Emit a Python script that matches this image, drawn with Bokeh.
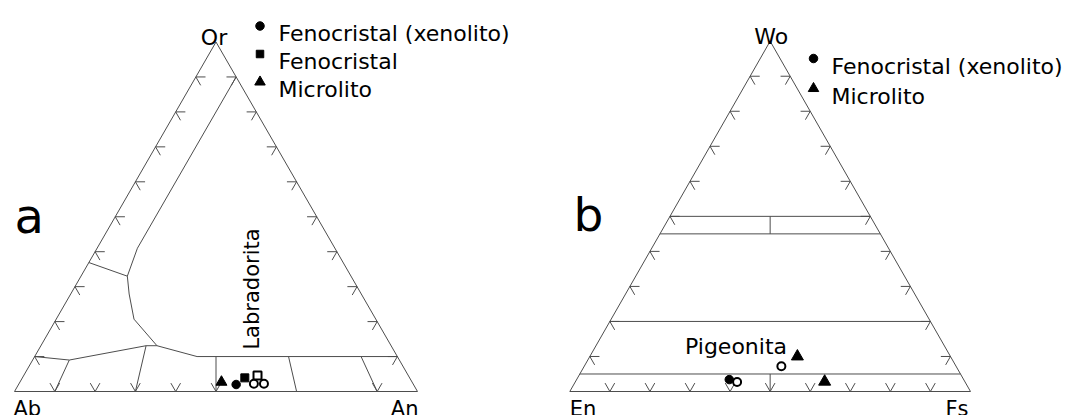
import numpy as np
from bokeh.plotting import figure
from bokeh.layouts import row
from bokeh.models import Range1d
from bokeh.core.properties import value
from bokeh.embed import file_html
from bokeh.resources import INLINE

# ---------------- DATA ----------------
# Feldspar analyses (Ab, An, Or in %)
fsp_micro_ab = [47.3]; fsp_micro_an = [50.0]; fsp_micro_or = [2.7]        # Microlito (filled triangle)
fsp_xeno_ab = [44.0];  fsp_xeno_an = [54.0];  fsp_xeno_or = [2.0]         # Fenocristal (xenolito) (filled circle)
fsp_feno_ab = [40.9];  fsp_feno_an = [55.2];  fsp_feno_or = [3.9]         # Fenocristal (filled square)
fsp_feno_o_ab = [37.4]; fsp_feno_o_an = [58.0]; fsp_feno_o_or = [4.6]     # open square
fsp_xeno_o_ab = [39.5, 37.0]; fsp_xeno_o_an = [58.3, 60.8]; fsp_xeno_o_or = [2.2, 2.2]  # open circles

# Pyroxene analyses (En, Fs, Wo in %)
px_xeno_en = [58.5]; px_xeno_fs = [38.1]; px_xeno_wo = [3.4]               # filled circle
px_xeno_o_en = [56.9, 43.6]; px_xeno_o_fs = [40.4, 49.2]; px_xeno_o_wo = [2.7, 7.2]  # open circles
px_micro_en = [38.2, 35.0]; px_micro_fs = [51.8, 62.2]; px_micro_wo = [10.0, 2.8]    # filled triangles

# Feldspar field boundaries, (Ab, An, Or) vertices of each polyline
fsp_boundaries = [
    [(90, 0, 10), (81.9, 9.1, 9), (60.8, 26.1, 13.1), (58.1, 28.8, 13.1), (49.7, 40.3, 10), (0, 90, 10)],
    [(58.1, 28.8, 13.1), (60.0, 19.3, 20.7), (57.6, 14.5, 27.9), (55.5, 11.5, 33.0), (49.0, 10.0, 41.0), (0, 10, 90)],
    [(63.1, 0, 36.9), (55.5, 11.5, 33.0)],
    [(90, 10, 0), (81.9, 9.1, 9)],
    [(70, 30, 0), (60.8, 26.1, 13.1)],
    [(50, 50, 0), (45, 45, 10)],
    [(30, 70, 0), (27, 63, 10)],
    [(10, 90, 0), (9, 81, 10)],
]
# Pyroxene boundaries, (En, Fs, Wo)
px_boundaries = [
    [(50, 0, 50), (0, 50, 50)],
    [(55, 0, 45), (0, 55, 45)],
    [(80, 0, 20), (0, 80, 20)],
    [(95, 0, 5), (0, 95, 5)],
    [(27.5, 27.5, 45), (25, 25, 50)],
    [(50, 50, 0), (47.5, 47.5, 5)],
]
fsp_corner = ["Ab", "An", "Or"]
px_corner = ["En", "Fs", "Wo"]
fsp_legend = ["Fenocristal (xenolito)", "Fenocristal", "Microlito"]
px_legend = ["Fenocristal (xenolito)", "Microlito"]
tick_steps = [10, 20, 30, 40, 50, 60, 70, 80, 90]
fsp_bottom_ticks = [10, 20, 30, 40, 50, 90]

FONT = value("DejaVu Sans")
LC = "#4d4d4d"
H = 415      # Bokeh's page template has no body margin: page y 0 .. 415
TOP = 0


def tern(left, right, top):
    s = np.asarray(left, float) + np.asarray(right, float) + np.asarray(top, float)
    r = np.asarray(right, float) / s
    t = np.asarray(top, float) / s
    return list(r + t / 2), list(t)


def make_fig(width, page_x0, vx, sx, sy):
    X = lambda px: (px - vx) / sx
    Y = lambda py: (391 - py) / sy
    p = figure(width=width, height=H, x_range=Range1d(X(page_x0), X(page_x0 + width)),
               y_range=Range1d(Y(TOP + H), Y(TOP)), output_backend="svg", toolbar_location=None,
               min_border=0, x_axis_type=None, y_axis_type=None)
    p.outline_line_color = None
    p.grid.visible = False
    return p, X, Y


def frame(p, boundaries, bottom_ticks):
    xs, ys = [], []
    xs.append([0, 1, 0.5, 0]); ys.append([0, 0, 1, 0])
    for b in boundaries:
        bx, by = tern([v[0] for v in b], [v[1] for v in b], [v[2] for v in b])
        xs.append(bx); ys.append(by)
    L = 0.024
    for t in tick_steps:
        s = t / 100
        x0, y0 = s / 2, s
        xs.append([x0 + L, x0, x0 + L / 2]); ys.append([y0, y0, y0 - L])
        x0, y0 = 1 - s / 2, s
        xs.append([x0 - L, x0, x0 - L / 2]); ys.append([y0, y0, y0 - L])
    for t in bottom_ticks:
        s = t / 100
        xs.append([s - L / 2, s, s + L / 2]); ys.append([L, 0, L])
    p.multi_line(xs, ys, line_color=LC, line_width=1)


# ---------------- LEFT: feldspar ----------------
pL, LX, LY = make_fig(540, 0, 14, 403, 349.5)
frame(pL, fsp_boundaries, fsp_bottom_ticks)

x, y = tern(fsp_micro_ab, fsp_micro_an, fsp_micro_or)
pL.scatter(x, y, marker="triangle", size=11, color="black")
x, y = tern(fsp_xeno_ab, fsp_xeno_an, fsp_xeno_or)
pL.scatter(x, y, marker="circle", size=8.5, color="black")
x, y = tern(fsp_feno_ab, fsp_feno_an, fsp_feno_or)
pL.scatter(x, y, marker="square", size=8, color="black")
x, y = tern(fsp_feno_o_ab, fsp_feno_o_an, fsp_feno_o_or)
pL.scatter(x, y, marker="square", size=8, fill_color="white", line_color="black", line_width=2)
x, y = tern(fsp_xeno_o_ab, fsp_xeno_o_an, fsp_xeno_o_or)
pL.scatter(x, y, marker="circle", size=8, fill_color="white", line_color="black", line_width=2)

pL.text([0, 1], [0, 0], text=fsp_corner[:2], text_font=FONT, text_font_size="21px",
        text_align=["left", "right"], text_baseline="alphabetic",
        x_offset=[-1, 1], y_offset=[17, 17], text_color="black")
pL.text([0.5], [1], text=fsp_corner[2:], text_font=FONT, text_font_size="22px",
        text_align="center", text_baseline="alphabetic",
        x_offset=-2, y_offset=-4.5, text_color="black")
pL.text([LX(14)], [LY(215)], text=["a"], text_font=FONT, text_font_size="48px",
        text_baseline="alphabetic", text_color="black")
pL.text([LX(251.5)], [LY(288.5)], text=["Labradorita"], text_font=FONT, text_font_size="21px",
        text_align="center", text_baseline="middle", angle=np.pi / 2, text_color="black")
lg_y = [25.5, 53.5, 81.5]
lg_mk = ["circle", "square", "triangle"]
lg_sz = [8.5, 7.5, 10.5]
for i, lab in enumerate(fsp_legend):
    pL.scatter([LX(259.5)], [LY(lg_y[i])], marker=lg_mk[i], size=lg_sz[i], color="black")
    pL.text([LX(278)], [LY(lg_y[i] + 7)], text=[lab], text_font=FONT, text_font_size="22px",
            text_baseline="alphabetic", text_color="black")

# ---------------- RIGHT: pyroxene ----------------
pR, RX, RY = make_fig(529, 540, 569.3, 400.7, 350.3)
frame(pR, px_boundaries, tick_steps)

x, y = tern(px_xeno_en, px_xeno_fs, px_xeno_wo)
pR.scatter(x, y, marker="circle", size=8.5, color="black")
x, y = tern(px_xeno_o_en, px_xeno_o_fs, px_xeno_o_wo)
pR.scatter(x, y, marker="circle", size=8, fill_color="white", line_color="black", line_width=2)
x, y = tern(px_micro_en, px_micro_fs, px_micro_wo)
pR.scatter(x, y, marker="triangle", size=12, color="black")

pR.text([0, 1], [0, 0], text=px_corner[:2], text_font=FONT, text_font_size="21px",
        text_align=["left", "right"], text_baseline="alphabetic",
        x_offset=[0, -2], y_offset=[17, 17], text_color="black")
pR.text([0.5], [1], text=px_corner[2:], text_font=FONT, text_font_size="22px",
        text_align="center", text_baseline="alphabetic",
        x_offset=1, y_offset=-4.5, text_color="black")
pR.text([RX(573)], [RY(213.5)], text=["b"], text_font=FONT, text_font_size="47px",
        text_baseline="alphabetic", text_color="black")
pR.text([RX(735.5)], [RY(346)], text=["Pigeonita"], text_font=FONT, text_font_size="22px",
        text_align="center", text_baseline="alphabetic", text_color="black")
lg_y = [58, 88]
lg_mk = ["circle", "triangle"]
lg_sz = [8.5, 10.5]
for i, lab in enumerate(px_legend):
    pR.scatter([RX(813)], [RY(lg_y[i])], marker=lg_mk[i], size=lg_sz[i], color="black")
    pR.text([RX(831)], [RY(lg_y[i] + 7.5)], text=[lab], text_font=FONT, text_font_size="22px",
            text_baseline="alphabetic", text_color="black")

layout = row(pL, pR, spacing=0)
open("out.html", "w").write(file_html(layout, INLINE))
